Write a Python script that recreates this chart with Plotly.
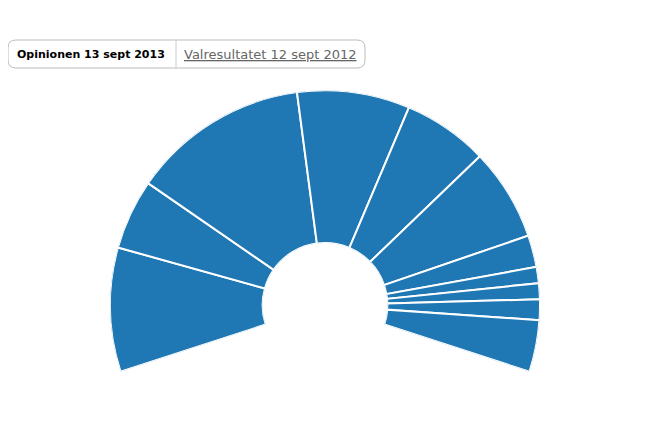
import plotly.graph_objects as go

# slice sizes (angular share, degrees of 216° arc), left to right
parties = ["P1","P2","P3","P4","P5","P6","P7","P8","P9","P10","P11"]
values = [33.6, 19.0, 47.9, 30.5, 23.1, 25.0, 8.6, 4.4, 4.3, 5.6, 14.0]
start_angle = 198

thetas = []
cum = 0
for v in values:
    thetas.append(start_angle - (cum + v / 2))
    cum += v

W, H = 648, 433
OFF = 8  # page body margin

def px(x): return (x - OFF) / W
def py(y): return 1 - (y - OFF) / H

fig = go.Figure(go.Barpolar(
    r=[1] * len(values), theta=thetas, width=values, text=parties,
    marker=dict(color="#1f77b4", line=dict(color="white", width=2)),
    hoverinfo="text",
))
fig.update_layout(
    width=W, height=H, margin=dict(l=0, r=0, t=0, b=0),
    paper_bgcolor="white", showlegend=False,
    polar=dict(
        domain=dict(x=[px(110), px(540)], y=[py(372), py(90)]),
        sector=[-18, 198], hole=0.29, bgcolor="white",
        radialaxis=dict(visible=False, range=[0, 1]),
        angularaxis=dict(visible=False, rotation=0, direction="counterclockwise"),
    ),
)

x0, x1, y0, y1, rr = 8, 365, 40, 68, 8
path = (f"M {px(x0+rr)} {py(y0)} L {px(x1-rr)} {py(y0)} Q {px(x1)} {py(y0)} {px(x1)} {py(y0+rr)} "
        f"L {px(x1)} {py(y1-rr)} Q {px(x1)} {py(y1)} {px(x1-rr)} {py(y1)} "
        f"L {px(x0+rr)} {py(y1)} Q {px(x0)} {py(y1)} {px(x0)} {py(y1-rr)} "
        f"L {px(x0)} {py(y0+rr)} Q {px(x0)} {py(y0)} {px(x0+rr)} {py(y0)} Z")
fig.add_shape(type="path", path=path, xref="paper", yref="paper",
              line=dict(color="#bbbbbb", width=1), fillcolor="rgba(0,0,0,0)")
fig.add_shape(type="line", xref="paper", yref="paper", x0=px(176), x1=px(176),
              y0=py(y0), y1=py(y1), line=dict(color="#cccccc", width=1))
fig.add_annotation(x=px(91), y=py(54), xref="paper", yref="paper", showarrow=False,
                   xanchor="center", yanchor="middle",
                   text="<b>Opinionen 13 sept 2013</b>",
                   font=dict(family="DejaVu Sans", size=11, color="black"))
fig.add_annotation(x=px(270), y=py(54), xref="paper", yref="paper", showarrow=False,
                   xanchor="center", yanchor="middle",
                   text="<u>Valresultatet 12 sept 2012</u>",
                   font=dict(family="DejaVu Sans", size=13, color="#666666"))

fig.write_html("out.html")
